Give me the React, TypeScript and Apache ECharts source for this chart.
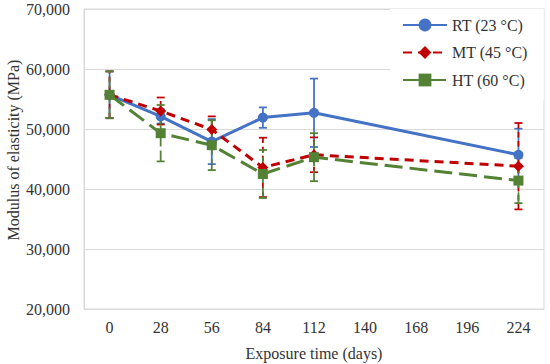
import React, { useEffect, useRef } from "react";
import * as echarts from "echarts";

const categories = ["0", "28", "56", "84", "112", "140", "168", "196", "224"];
const seriesNames = ["RT (23 °C)", "MT (45 °C)", "HT (60 °C)"];
const rtValues: (number | null)[] = [55700, 52100, 47900, 51900, 52700, null, null, null, 45700];
const mtValues: (number | null)[] = [55700, 53000, 49900, 43600, 45700, null, null, null, 43800];
const htValues: (number | null)[] = [55700, 49300, 47300, 42500, 45300, null, null, null, 41400];
const rtErrors: (number | null)[] = [3900, 1200, 3750, 1700, 5700, null, null, null, 4350];
const mtErrors: (number | null)[] = [3900, 2250, 2200, 4950, 2900, null, null, null, 7200];
const htErrors: (number | null)[] = [3900, 4700, 4150, 4000, 4000, null, null, null, 3750];
const yTicks = { min: 20000, max: 70000, interval: 10000 };

const colors = ["#4472C4", "#C00000", "#548235"];
const dashes: (number[] | null)[] = [null, [9, 6], [18, 7]];
const FONT = "'Times New Roman', 'Liberation Serif', serif";

function errData(vals: (number | null)[], errs: (number | null)[]) {
  const out: number[][] = [];
  vals.forEach((v, i) => {
    const e = errs[i];
    if (v != null && e != null) out.push([i, v - e, v + e]);
  });
  return out;
}

function errSeries(name: string, vals: (number | null)[], errs: (number | null)[], color: string, dash: number[] | null) {
  return {
    type: "custom",
    name: name + " err",
    data: errData(vals, errs),
    encode: { x: 0, y: [1, 2] },
    renderItem: (params: any, api: any) => {
      const x = api.value(0);
      const lo = api.coord([x, api.value(1)]);
      const hi = api.coord([x, api.value(2)]);
      const cap = 4;
      const style = { stroke: color, lineWidth: 1.75, lineDash: dash ? [dash[0] * 0.6, dash[1] * 0.6] : null, fill: null };
      const capStyle = { stroke: color, lineWidth: 1.75, fill: null };
      return {
        type: "group",
        children: [
          { type: "line", shape: { x1: lo[0], y1: lo[1], x2: hi[0], y2: hi[1] }, style },
          { type: "line", shape: { x1: lo[0] - cap, y1: lo[1], x2: lo[0] + cap, y2: lo[1] }, style: capStyle },
          { type: "line", shape: { x1: hi[0] - cap, y1: hi[1], x2: hi[0] + cap, y2: hi[1] }, style: capStyle },
        ],
      };
    },
    z: 3,
  };
}

function lineSeries(name: string, vals: (number | null)[], color: string, dash: number[] | null, symbol: string, size: number) {
  return {
    type: "line",
    name,
    data: vals,
    connectNulls: true,
    symbol,
    symbolSize: size,
    showAllSymbol: true,
    itemStyle: { color },
    lineStyle: { color, width: 3, type: dash ? dash : "solid" },
    z: 3,
  };
}

export default function App() {
  const ref = useRef<HTMLDivElement>(null);
  useEffect(() => {
    if (!ref.current) return;
    const chart = echarts.init(ref.current, null, { renderer: "svg" });
    chart.setOption({
      animation: false,
      backgroundColor: "#fff",
      textStyle: { fontFamily: FONT },
      grid: {
        left: 84,
        right: 6,
        top: 9,
        bottom: 55,
        show: true,
        borderColor: "#d9d9d9",
        borderWidth: 1,
        outerBoundsMode: "none",
      },
      legend: {
        data: seriesNames,
        orient: "vertical",
        left: 390,
        top: 9,
        padding: [8, 16, 12, 12],
        backgroundColor: "#fff",
        itemWidth: 44,
        itemHeight: 16,
        itemGap: 11.5,
        textStyle: { fontFamily: FONT, fontSize: 16, color: "#333" },
        z: 10,
      },
      xAxis: {
        type: "category",
        data: categories,
        boundaryGap: true,
        axisLine: { show: true, lineStyle: { color: "#d9d9d9" } },
        axisTick: { show: false },
        axisLabel: { color: "#333", fontSize: 16, fontFamily: FONT, margin: 10 },
        name: "Exposure time (days)",
        nameLocation: "middle",
        nameGap: 36,
        nameTextStyle: { color: "#333", fontSize: 16, fontFamily: FONT },
      },
      yAxis: {
        type: "value",
        min: yTicks.min,
        max: yTicks.max,
        interval: yTicks.interval,
        axisLine: { show: true, lineStyle: { color: "#d9d9d9" } },
        axisTick: { show: false },
        splitLine: { lineStyle: { color: "#d9d9d9" } },
        axisLabel: {
          color: "#333",
          fontSize: 16,
          fontFamily: FONT,
          margin: 14,
          formatter: (v: number) => v.toLocaleString("en-US"),
        },
      },
      graphic: [
        {
          type: "text",
          x: 13,
          y: 150,
          rotation: Math.PI / 2,
          style: {
            text: "Modulus of elasticity (MPa)",
            fontSize: 16,
            fontFamily: FONT,
            fill: "#333",
            align: "center",
            verticalAlign: "middle",
          },
        },
      ],
      series: [
        lineSeries(seriesNames[0], rtValues, colors[0], dashes[0], "circle", 10),
        errSeries(seriesNames[0], rtValues, rtErrors, colors[0], dashes[0]),
        lineSeries(seriesNames[1], mtValues, colors[1], dashes[1], "diamond", 11),
        errSeries(seriesNames[1], mtValues, mtErrors, colors[1], dashes[1]),
        lineSeries(seriesNames[2], htValues, colors[2], dashes[2], "rect", 10),
        errSeries(seriesNames[2], htValues, htErrors, colors[2], dashes[2]),
      ],
    });
    return () => chart.dispose();
  }, []);
  return <div ref={ref} style={{ position: "fixed", left: 0, top: 0, width: 550, height: 364 }} />;
}
